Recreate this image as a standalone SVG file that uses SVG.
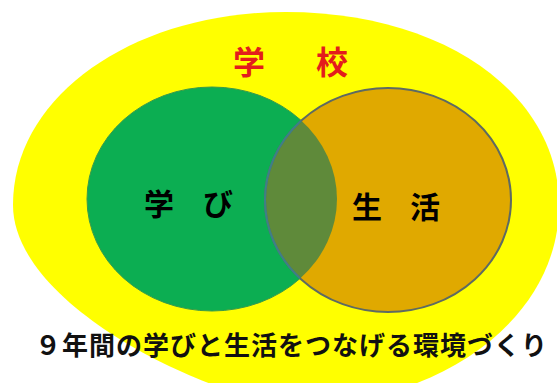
<svg xmlns="http://www.w3.org/2000/svg" width="557" height="383" viewBox="0 0 557 383">
  <style>
    .jp { font-family: "Noto Sans CJK JP", "Noto Sans CJK SC", sans-serif; font-weight: bold; text-anchor: middle; dominant-baseline: central; }
    .lbl { font-size: 30px; fill: #000000; }
    .title { font-size: 32px; fill: #e31c1c; }
    .caption { font-family: "Noto Sans CJK JP", "Noto Sans CJK SC", sans-serif; font-weight: bold; font-size: 26px; fill: #111111; }
  </style>
  <defs>
    <clipPath id="clipGreen">
      <ellipse cx="212" cy="199" rx="125" ry="112"/>
    </clipPath>
  </defs>
  <rect width="557" height="383" fill="#ffffff"/>
  <g id="school">
    <path d="M13,205 C13,95 135,12 286,12 C445,12 559,95 559,205 C559,325 430,405 300,405 C225,405 13,310 13,205 Z" fill="#ffff00"/>
    <text class="jp title" x="249" y="60">学</text>
    <text class="jp title" x="332" y="60">校</text>
  </g>
  <g id="manabi">
    <ellipse cx="212" cy="199" rx="125" ry="112" fill="#0cae52" stroke="#3a9a4a" stroke-width="1"/>
  </g>
  <g id="seikatsu">
    <ellipse cx="388" cy="200" rx="123" ry="112" fill="#e0a900"/>
  </g>
  <g id="overlap">
    <ellipse cx="388" cy="200" rx="123" ry="112" fill="#5f8a3a" clip-path="url(#clipGreen)"/>
    <ellipse cx="388" cy="200" rx="123" ry="112" fill="none" stroke="#5e6a62" stroke-width="2"/>
    <ellipse cx="388" cy="200" rx="123" ry="112" fill="none" stroke="#3f7f88" stroke-width="2" clip-path="url(#clipGreen)"/>
  </g>
  <g id="labels">
    <text class="jp lbl" x="159" y="202">学</text>
    <text class="jp lbl" x="218" y="202">び</text>
    <text class="jp lbl" x="367" y="205">生</text>
    <text class="jp lbl" x="425" y="205">活</text>
  </g>
  <g id="connectors"/>
  <g id="caption">
    <text class="caption" x="35" y="355" textLength="512" lengthAdjust="spacing">９年間の学びと生活をつなげる環境づくり</text>
  </g>
</svg>
